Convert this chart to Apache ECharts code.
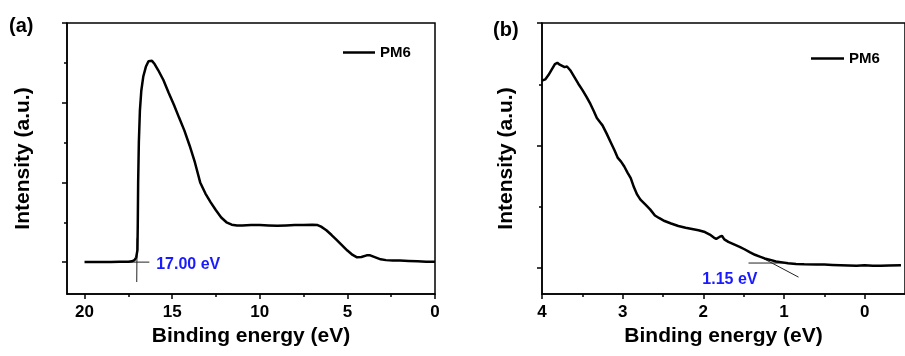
<!DOCTYPE html>
<html>
<head>
<meta charset="utf-8">
<script src="https://cdn.jsdelivr.net/npm/echarts@6/dist/echarts.min.js"></script>
<style>
  html, body { margin: 0; padding: 0; background: #fff; }
  #chart { width: 905px; height: 356px; }
</style>
</head>
<body>
<div id="chart"></div>
<script>
// panel (a): wide scan, binding energy (eV) vs intensity (a.u.)
var energyA = [20, 19.5, 19, 18.5, 18, 17.5, 17.3, 17.15, 17.05, 16.98, 16.96, 16.94, 16.9, 16.84, 16.76, 16.65, 16.5, 16.35, 16.25, 16.15, 16.0,
  15.8, 15.5, 15.2, 14.9, 14.6, 14.3, 14.0, 13.7, 13.4, 13.1, 12.8, 12.5, 12.2, 11.9, 11.6, 11.3, 11.0, 10.5, 10.0, 9.5, 9.0, 8.5, 8.0, 7.5,
  7.0, 6.7, 6.5, 6.2, 5.9, 5.6, 5.3, 5.0, 4.7, 4.45, 4.2, 3.9, 3.7, 3.4, 3.1, 2.8, 2.4, 2.0, 1.5, 1.0, 0.5, 0];
var intensityA = [0, 0, 0, 0.005, 0.01, 0.01, 0.02, 0.05, 0.12, 0.3, 1.0, 2.0, 3.0, 3.8, 4.3, 4.65, 4.9, 5.04, 5.08, 5.05, 4.97,
  4.82, 4.57, 4.25, 3.95, 3.62, 3.3, 2.92, 2.5, 2.0, 1.72, 1.5, 1.3, 1.12, 1.0, 0.94, 0.92, 0.92, 0.93, 0.93, 0.92, 0.91, 0.92, 0.93, 0.93,
  0.94, 0.93, 0.89, 0.8, 0.68, 0.55, 0.42, 0.29, 0.18, 0.12, 0.13, 0.17, 0.17, 0.12, 0.07, 0.05, 0.04, 0.04, 0.03, 0.02, 0.01, 0.01];

// panel (b): onset region
var energyB = [4.0, 3.96, 3.92, 3.88, 3.84, 3.81, 3.78, 3.75, 3.72, 3.69, 3.67, 3.65, 3.6, 3.55, 3.5, 3.45, 3.4, 3.36, 3.32, 3.28, 3.25,
  3.2, 3.15, 3.1, 3.06, 3.02, 2.98, 2.94, 2.9, 2.86, 2.82, 2.78, 2.72, 2.66, 2.6, 2.55, 2.48, 2.4, 2.31, 2.22, 2.14, 2.06, 1.98, 1.92,
  1.87, 1.84, 1.8, 1.77, 1.74, 1.69, 1.62, 1.55, 1.49, 1.42, 1.36, 1.3, 1.24, 1.18, 1.1, 1.04, 0.95, 0.85, 0.75, 0.6, 0.5, 0.4, 0.3,
  0.2, 0.1, 0.0, -0.1, -0.2, -0.3, -0.45];
var intensityB = [3.06, 3.08, 3.15, 3.24, 3.33, 3.35, 3.32, 3.3, 3.28, 3.29, 3.3, 3.23, 3.12, 3.01, 2.91, 2.8, 2.68, 2.57, 2.45, 2.38, 2.33,
  2.2, 2.06, 1.92, 1.8, 1.74, 1.66, 1.56, 1.47, 1.32, 1.2, 1.12, 1.04, 0.96, 0.86, 0.82, 0.77, 0.73, 0.69, 0.66, 0.64, 0.62, 0.59, 0.55,
  0.5, 0.48, 0.51, 0.53, 0.47, 0.43, 0.39, 0.35, 0.31, 0.26, 0.22, 0.19, 0.16, 0.14, 0.11, 0.1, 0.08, 0.07, 0.065, 0.06, 0.06, 0.055, 0.05,
  0.045, 0.04, 0.05, 0.04, 0.04, 0.045, 0.05];

// tangent lines used for the onset / cut-off
var baseTangentA = [[19.5, 0], [16.3, 0]];
var edgeTangentA = [[17.02, -0.5], [17.0, 0.6]];
var onsetA = [17.05, 0];
var baseTangentB = [[1.44, 0.085], [1.0, 0.085]];
var edgeTangentB = [[1.3, 0.19], [0.82, -0.145]];
var onsetB = [1.15, 0.085];

// ticks
var xTicksA = [20, 15, 10, 5, 0];
var xMinorA = [17.5, 12.5, 7.5, 2.5];
var yMajorA = [0, 2, 4, 6];
var yMinorA = [1, 3, 5];
var xTicksB = [4, 3, 2, 1, 0];
var xMinorB = [3.5, 2.5, 1.5, 0.5];
var yMajorB = [0, 2, 4];
var yMinorB = [1, 3];

function zip(xs, ys) {
  return xs.map(function (x, i) { return [x, ys[i]]; });
}

var FONT = 'Liberation Sans, Arial, sans-serif';
var BLUE = '#1a1aff';

function xAxes(grid, min, max, major, minor) {
  return [{
    gridIndex: grid, type: 'value', min: min, max: max, inverse: true, position: 'bottom',
    axisLine: { onZero: false, lineStyle: { color: '#000', width: 1.5 } },
    axisTick: { customValues: major, length: 5, lineStyle: { color: '#000', width: 1.5 } },
    axisLabel: { customValues: major, color: '#000', fontSize: 17, fontWeight: 'bold', fontFamily: FONT, margin: 10 },
    splitLine: { show: false },
    name: 'Binding energy (eV)', nameLocation: 'middle', nameGap: 31,
    nameTextStyle: { color: '#000', fontSize: 21, fontWeight: 'bold', fontFamily: FONT }
  }, {
    gridIndex: grid, type: 'value', min: min, max: max, inverse: true, position: 'bottom',
    axisLine: { show: false, onZero: false },
    axisTick: { customValues: minor, length: 3, lineStyle: { color: '#000', width: 1.5 } },
    axisLabel: { show: false },
    splitLine: { show: false }
  }];
}

function yAxes(grid, min, max, major, minor, gap) {
  return [{
    gridIndex: grid, type: 'value', min: min, max: max, position: 'left',
    axisLine: { show: true, onZero: false, lineStyle: { color: '#000', width: 1.5 } },
    axisTick: { show: true, customValues: major, length: 5, lineStyle: { color: '#000', width: 1.5 } },
    axisLabel: { show: false },
    splitLine: { show: false },
    name: 'Intensity (a.u.)', nameLocation: 'middle', nameGap: gap,
    nameTextStyle: { color: '#000', fontSize: 21, fontWeight: 'bold', fontFamily: FONT }
  }, {
    gridIndex: grid, type: 'value', min: min, max: max, position: 'left',
    axisLine: { show: false, onZero: false },
    axisTick: { show: true, customValues: minor, length: 3, lineStyle: { color: '#000', width: 1.5 } },
    axisLabel: { show: false },
    splitLine: { show: false }
  }];
}

function tangent(x, y, pts) {
  return {
    name: 'tangent', type: 'line', xAxisIndex: x, yAxisIndex: y, data: pts,
    showSymbol: false, silent: true, z: 1,
    lineStyle: { color: '#222', width: 1 }
  };
}

function onsetLabel(x, y, pt, text, pos, dist, off) {
  return {
    name: 'onset', type: 'scatter', xAxisIndex: x, yAxisIndex: y, data: [pt],
    symbolSize: 0, silent: true, itemStyle: { opacity: 1 },
    label: { show: true, formatter: text, position: pos, distance: dist, offset: off,
      color: BLUE, fontSize: 16, fontWeight: 'bold', fontFamily: FONT }
  };
}

var myChart = echarts.init(document.getElementById('chart'));

var option = {
  animation: false,
  title: [
    { text: '(a)', left: 9, top: 16, padding: 0, textStyle: { color: '#000', fontSize: 20, fontWeight: 'bold', fontFamily: FONT } },
    { text: '(b)', left: 493, top: 20, padding: 0, textStyle: { color: '#000', fontSize: 20, fontWeight: 'bold', fontFamily: FONT } }
  ],
  legend: [
    { data: ['PM6'], left: 343, top: 45, padding: 0, icon: 'rect', itemWidth: 32, itemHeight: 2.5, selectedMode: false,
      textStyle: { color: '#000', fontSize: 15, fontWeight: 'bold', fontFamily: FONT } },
    { data: ['PM6'], left: 811, top: 51, padding: 0, icon: 'rect', itemWidth: 33, itemHeight: 2.5, selectedMode: false,
      textStyle: { color: '#000', fontSize: 15, fontWeight: 'bold', fontFamily: FONT } }
  ],
  grid: [
    { left: 67, top: 23, width: 368, height: 271, show: true, borderColor: '#000', borderWidth: 1.5 },
    { left: 542, top: 23, width: 369, height: 271, show: true, borderColor: '#000', borderWidth: 1.5 }
  ],
  xAxis: xAxes(0, 0, 21, xTicksA, xMinorA).concat(xAxes(1, -0.5, 4, xTicksB, xMinorB)),
  yAxis: yAxes(0, -0.8, 6, yMajorA, yMinorA, 33).concat(yAxes(1, -0.42, 4, yMajorB, yMinorB, 25)),
  series: [
    { name: 'PM6', type: 'line', xAxisIndex: 0, yAxisIndex: 0, data: zip(energyA, intensityA),
      showSymbol: false, z: 3, lineStyle: { color: '#000', width: 2.5 }, itemStyle: { color: '#000' } },
    tangent(0, 0, baseTangentA),
    tangent(0, 0, edgeTangentA),
    onsetLabel(0, 0, onsetA, '17.00 eV', 'right', 20, [0, 2]),
    { name: 'PM6', type: 'line', xAxisIndex: 2, yAxisIndex: 2, data: zip(energyB, intensityB),
      showSymbol: false, z: 3, lineStyle: { color: '#000', width: 2.5 }, itemStyle: { color: '#000' } },
    tangent(2, 2, baseTangentB),
    tangent(2, 2, edgeTangentB),
    onsetLabel(2, 2, onsetB, '1.15 eV', 'bottom', 7, [-42, 2])
  ]
};

myChart.setOption(option);
</script>
</body>
</html>
